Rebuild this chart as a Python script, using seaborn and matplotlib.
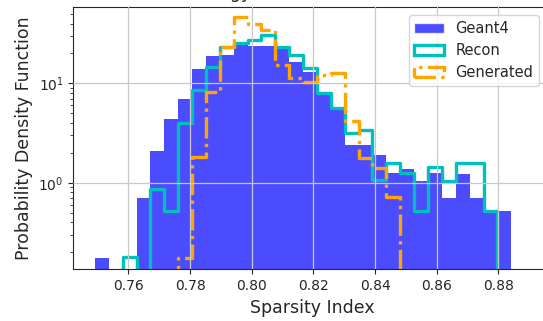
import numpy as np
import pandas as pd
import matplotlib
matplotlib.use("Agg")
import matplotlib.pyplot as plt
from matplotlib.patches import Patch
import seaborn as sns

sns.set_style("ticks", {"axes.grid": True})
plt.rcParams['font.family'] = ['DejaVu Sans']

# shared binning (30 bins)
bin_lo = 0.74912
bin_hi = 0.88421
n_bins = 30

# probability density per bin
geant4 = [0.176, 0, 0, 0.70, 2.08, 4.37, 6.9, 13.9, 19.0, 19.5,
          25.5, 23.5, 23.5, 22.0, 16.5, 13.1, 7.6, 5.4, 2.39, 2.4,
          1.9, 1.24, 1.36, 1.05, 1.24, 0.70, 1.22, 0.70, 0.52, 0.52]
recon = [0, 0, 0.18, 0, 0.86, 0.52, 3.96, 8.6, 14.7, 23.4,
         25.2, 27.3, 31.0, 23.4, 19.3, 14.2, 8.0, 5.6, 3.14, 3.39,
         1.06, 1.57, 1.24, 0.52, 1.43, 1.05, 1.57, 1.57, 0.52, 0]
generated = [0, 0, 0, 0, 0, 0, 0.176, 1.83, 8.2, 23.0,
             46.5, 40.0, 34.4, 15.3, 11.2, 10.4, 12.0, 12.6, 4.2, 1.76,
             1.40, 0.72, 0, 0, 0, 0, 0, 0, 0, 0]

edges = np.linspace(bin_lo, bin_hi, n_bins + 1)
df = pd.DataFrame({"x": (edges[:-1] + edges[1:]) / 2,
                   "geant4": geant4, "recon": recon, "generated": generated})

fig = plt.figure(figsize=(5.43, 3.21), dpi=100)
ax = fig.add_axes([0.135, 0.161, 0.882, 0.818])

sns.histplot(data=df, x="x", weights="geant4", bins=list(edges), element="bars",
             color="blue", alpha=0.7, linewidth=0, ax=ax)
sns.histplot(data=df, x="x", weights="recon", bins=list(edges), element="step",
             fill=False, color="c", linewidth=2.4, ax=ax)
sns.histplot(data=df, x="x", weights="generated", bins=list(edges), element="step",
             fill=False, color="orange", linewidth=2.4, linestyle="-.", ax=ax)

ax.set_yscale("log")
ax.set_xlim(0.7421, 0.8975)
ax.set_ylim(0.1345, 59)
ax.set_xticks([0.76, 0.78, 0.80, 0.82, 0.84, 0.86, 0.88])
ax.tick_params(labelsize=10)
ax.set_axisbelow(False)
ax.grid(True, which="major", color="#c8c8c8", linewidth=0.9)
ax.set_xlabel("Sparsity Index", fontsize=12.5)
ax.set_ylabel("Probability Density Function", fontsize=12.5)

handles = [Patch(facecolor="blue", alpha=0.7, label="Geant4"),
           Patch(facecolor="none", edgecolor="c", linewidth=2.4, label="Recon"),
           Patch(facecolor="none", edgecolor="orange", linewidth=2.4,
                 linestyle="-.", label="Generated")]
ax.legend(handles=handles, loc="upper right", fontsize=10.5,
          bbox_to_anchor=(539 / 543, 1 - 15 / 321),
          bbox_transform=fig.transFigure, borderaxespad=0)

# title sits above the (cropped) top edge, only its lowest strip shows
fig.text(150 / 543, 1.006, "Low Energy Distribution Plot", ha="left",
         va="baseline", fontsize=12.5)

fig.savefig("out.png", dpi=100)
